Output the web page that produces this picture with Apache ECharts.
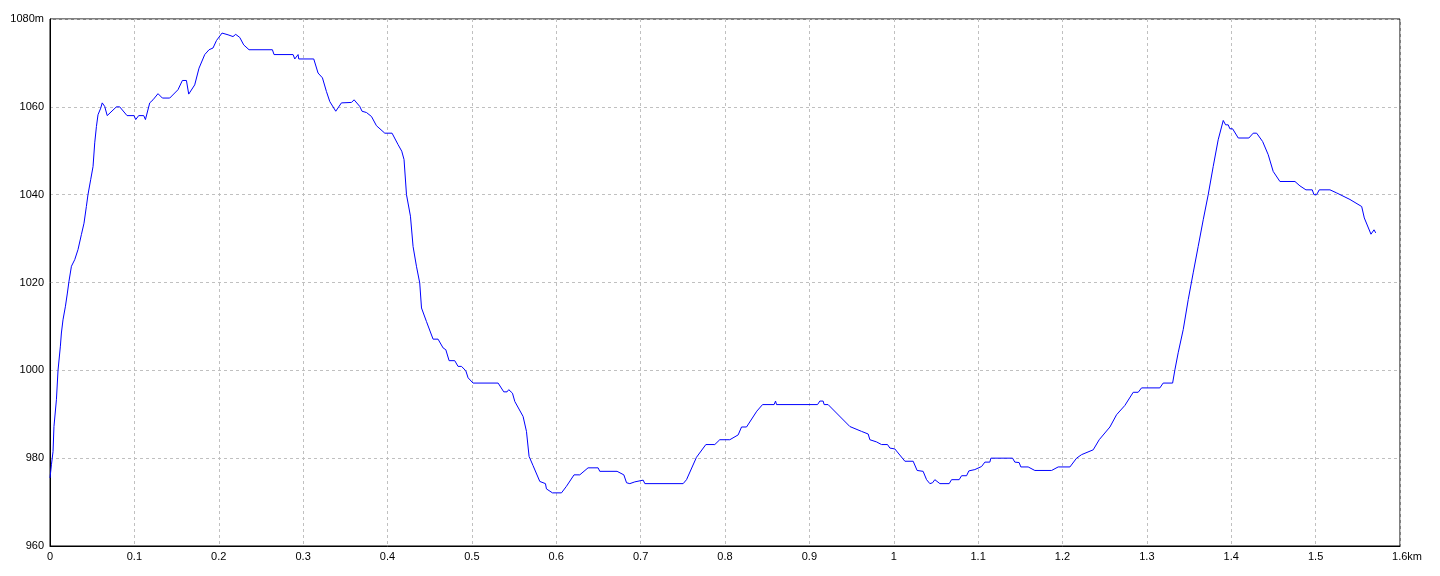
<!DOCTYPE html>
<html>
<head>
<meta charset="utf-8">
<script src="https://cdn.jsdelivr.net/npm/echarts@6/dist/echarts.min.js"></script>
<style>
html,body{margin:0;padding:0;background:#fff;}
#chart{width:1440px;height:576px;}
</style>
</head>
<body>
<div id="chart"></div>
<script>
// distance along route (km)
const distKm = [
0,0.0017,0.0036,0.0047,0.0076,0.0095,0.0123,0.0135,0.0154,0.0183,0.0206,0.0225,0.0254,0.0293,0.0332,0.0372,0.0403,0.0431,0.0450,0.0482,
0.0510,0.0530,0.0550,0.0569,0.0601,0.0619,0.0648,0.0678,0.0787,0.0826,0.0913,0.0996,0.1016,0.1051,0.1111,0.1131,0.1182,0.1221,0.1280,0.1332,
0.1419,0.1517,0.1569,0.1617,0.1644,0.1715,0.1766,0.1834,0.1885,0.1932,0.1973,0.2039,0.2110,0.2169,0.2201,0.2249,0.2296,0.2359,0.2636,0.2655,
0.2881,0.2901,0.2940,0.2948,0.3126,0.3177,0.3229,0.3276,0.3316,0.3387,0.3454,0.3573,0.3604,0.3671,0.3698,0.3751,0.3810,0.3869,0.3968,0.4054,
0.4125,0.4169,0.4196,0.4225,0.4272,0.4303,0.4343,0.4382,0.4403,0.4462,0.4540,0.4599,0.4659,0.4691,0.4730,0.4797,0.4836,0.4877,0.4928,0.4955,
0.5014,0.5311,0.5378,0.5417,0.5437,0.5481,0.5509,0.5607,0.5647,0.5678,0.5725,0.5805,0.5872,0.5884,0.5955,0.6062,0.6121,0.6211,0.6279,0.6377,
0.6496,0.6516,0.6721,0.6801,0.6833,0.6872,0.6931,0.7030,0.7050,0.7504,0.7544,0.7662,0.7773,0.7879,0.7938,0.8057,0.8156,0.8196,0.8255,0.8377,
0.8445,0.8582,0.8599,0.8611,0.9097,0.9124,0.9163,0.9175,0.9222,0.9480,0.9618,0.9697,0.9717,0.9796,0.9855,0.9926,0.9954,1.0013,1.0132,1.0230,
1.0277,1.0348,1.0389,1.0428,1.0460,1.0487,1.0547,1.0657,1.0685,1.0775,1.0804,1.0863,1.0890,1.0961,1.1041,1.1080,1.1139,1.1151,1.1408,1.1435,
1.1486,1.1506,1.1593,1.1672,1.1871,1.1949,1.2088,1.2167,1.2226,1.2364,1.2435,1.2562,1.2641,1.2739,1.2838,1.2897,1.2937,1.3154,1.3193,1.3305,
1.3332,1.3371,1.3431,1.3490,1.3549,1.3608,1.3668,1.3727,1.3786,1.3845,1.3905,1.3933,1.3964,1.3984,1.4016,1.4083,1.4209,1.4260,1.4301,1.4372,
1.4438,1.4497,1.4577,1.4755,1.4814,1.4885,1.4960,1.4980,1.5012,1.5043,1.5170,1.5249,1.5407,1.5546,1.5577,1.5656,1.5692,1.5712
];
// elevation (m)
const elevM = [
975.5,978.5,981.5,987.2,993.3,1000,1005.5,1008.5,1011.5,1014.6,1017.6,1020.3,1023.7,1025.2,1027.5,1030.9,1033.5,1037.3,1040,1043.4,
1046.4,1051.8,1055.5,1058.2,1059.7,1060.9,1060.1,1058,1060,1060,1058,1058,1057.1,1058,1058,1057.1,1060.9,1061.6,1063,1062,
1062,1063.9,1066,1066,1062.9,1065,1068.8,1071.9,1073,1073.4,1075.1,1076.8,1076.4,1076,1076.5,1075.8,1074.1,1073,1073,1071.9,
1071.9,1070.9,1071.9,1070.9,1070.9,1067.7,1066.6,1063.5,1061.2,1059,1060.9,1061,1061.6,1060.1,1059,1058.7,1057.8,1055.7,1054,1054,
1051.4,1049.9,1048,1040,1035.1,1028.2,1023.7,1019.9,1014.2,1011.1,1007.1,1007.1,1005.1,1004.7,1002.2,1002.2,1000.9,1000.9,999.9,998.3,
997.1,997.1,995.1,995.1,995.6,994.8,992.9,989.5,986.1,980.4,978.3,974.7,974.2,973,972.1,972.1,973.6,976.2,976.2,977.8,
977.8,977,977,976.2,974.4,974.2,974.6,975,974.2,974.2,975.1,980.2,983.1,983.1,984.2,984.2,985.3,987.1,987.1,990.7,
992.2,992.2,993,992.2,992.2,993,993,992.2,992.2,987.2,986.1,985.5,984.2,983.7,983.1,983.1,982.3,982.1,979.3,979.3,
977.2,977,975.1,974.2,974.4,975.1,974.2,974.2,975.1,975.1,976,976,977.1,977.4,978.1,979.1,979.1,980,980,979.1,
979,978,978,977.2,977.2,978,978,980,980.8,981.9,984.2,987.1,989.9,992,995,995,996,996,997.1,997.1,
1000.1,1004,1009.3,1016.1,1022.2,1028.2,1034.3,1040,1046.4,1052.5,1056.9,1055.9,1055.9,1055,1055,1052.9,1052.9,1054,1054,1052.1,
1049.1,1045.3,1043,1043,1042,1041.1,1041.1,1040,1040,1041.1,1041.1,1040.4,1038.9,1037.3,1034.7,1031,1032,1031.3
];
// axis tick labels
const xTickLabels = ['0','0.1','0.2','0.3','0.4','0.5','0.6','0.7','0.8','0.9','1','1.1','1.2','1.3','1.4','1.5','1.6km'];
const yTickLabels = ['960','980','1000','1020','1040','1060','1080m'];

const points = distKm.map((d, i) => [d, elevM[i]]);

const chart = echarts.init(document.getElementById('chart'), null, {renderer: 'canvas'});
const labelFont = {color: '#000', fontFamily: '"Liberation Sans", Arial, sans-serif', fontSize: 11};
chart.setOption({
  animation: false,
  backgroundColor: '#fff',
  grid: {left: 50, right: 40, top: 19, bottom: 30, show: true, borderColor: '#000', borderWidth: 1, backgroundColor: 'transparent'},
  xAxis: {
    type: 'value', min: 0, max: 1.6, interval: 0.1,
    axisLine: {show: true, onZero: false, lineStyle: {color: '#000', width: 1}},
    axisTick: {show: false},
    splitLine: {show: true, lineStyle: {color: '#c0c0c0', type: [3, 3], width: 1}},
    axisLabel: Object.assign({}, labelFont, {
      margin: 5,
      showMinLabel: true, showMaxLabel: true,
      formatter: function (v) {
        const idx = Math.round(v * 10);
        const t = xTickLabels[idx];
        if (idx === 16) return '{k|' + t + '}';
        return t;
      },
      rich: {k: Object.assign({}, labelFont, {padding: [0, 0, 0, 14]})}
    })
  },
  yAxis: {
    type: 'value', min: 960, max: 1080, interval: 20,
    axisLine: {show: true, lineStyle: {color: '#000', width: 1}},
    axisTick: {show: false},
    splitLine: {show: true, lineStyle: {color: '#c0c0c0', type: [3, 3], width: 1}},
    axisLabel: Object.assign({}, labelFont, {
      margin: 6,
      showMinLabel: true, showMaxLabel: true,
      formatter: function (v) { return yTickLabels[Math.round((v - 960) / 20)]; }
    })
  },
  series: [{
    type: 'line',
    data: points,
    showSymbol: false,
    symbol: 'none',
    smooth: false,
    lineStyle: {color: '#0000ff', width: 1},
    z: 3
  }]
});
</script>
</body>
</html>
